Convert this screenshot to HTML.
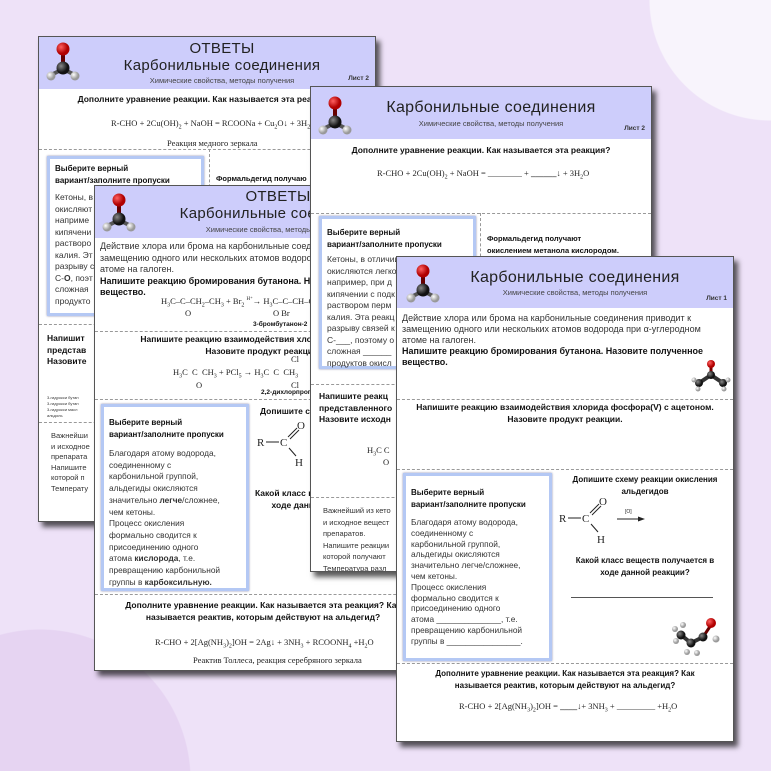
<!DOCTYPE html>
<html><head><meta charset="utf-8"><style>
*{margin:0;padding:0;box-sizing:border-box}
body{width:771px;height:771px;overflow:hidden;position:relative;font-family:"Liberation Sans","DejaVu Sans",sans-serif;color:#333;
background:radial-gradient(circle at 770px 0px,#f8f4fc 0 120px,transparent 121px),radial-gradient(circle at 40px 780px,#e6d4f2 0 150px,transparent 151px),#eee2f8}
.pg{position:absolute;width:338px;height:486px;background:#fff;border:1px solid #555;box-shadow:4px 5px 5px rgba(0,0,0,.65);overflow:hidden}
.pg>*{position:absolute}
.hd{left:0;top:0;width:100%;height:51px;background:#cdcdfb}
.t1{width:100%;text-align:center;font-size:15px;color:#222;letter-spacing:.3px}
.t2{width:100%;text-align:center;font-size:7.5px;color:#444}
.ls{font-size:6.5px;font-weight:bold;color:#333}
.dot{left:0;width:100%;border-top:1px dashed #999;height:0}
.b{font-weight:bold;color:#111}
.c{text-align:center}
.s{font-size:8.5px;line-height:11.5px}
.box{border:3px solid #b4c8f4;background:#fff;box-shadow:0 0 2px #88a}
.eq{font-family:"Liberation Serif",serif;font-size:8.5px;color:#222;white-space:nowrap}
sub{font-size:6px}
</style></head><body>

<svg width="0" height="0" style="position:absolute"><defs>
<radialGradient id="gr" cx=".35" cy=".35"><stop offset="0" stop-color="#ff6060"/><stop offset="1" stop-color="#b00000"/></radialGradient>
<radialGradient id="gk" cx=".35" cy=".35"><stop offset="0" stop-color="#888"/><stop offset="1" stop-color="#111"/></radialGradient>
<radialGradient id="gw" cx=".35" cy=".35"><stop offset="0" stop-color="#fff"/><stop offset="1" stop-color="#999"/></radialGradient>
<g id="mol"><rect x="18" y="10" width="4" height="14" fill="#600"/><line x1="20" y1="28" x2="8" y2="34" stroke="#555" stroke-width="4"/><line x1="20" y1="28" x2="32" y2="34" stroke="#555" stroke-width="4"/><circle cx="20" cy="8" r="6.5" fill="url(#gr)"/><circle cx="8" cy="35" r="4.5" fill="url(#gw)"/><circle cx="32" cy="35" r="4.5" fill="url(#gw)"/><circle cx="20" cy="27" r="6.5" fill="url(#gk)"/></g>
</defs></svg>

<!-- Page A -->
<div class="pg" style="left:38px;top:36px">
 <div class="hd" style="height:52px"></div>
 <svg style="left:4px;top:4px" width="40" height="44"><use href="#mol"/></svg>
 <div class="t1" style="top:3px;left:0;font-size:15px;padding-left:30px">ОТВЕТЫ</div>
 <div class="t1" style="top:20px;left:0;padding-left:30px">Карбонильные соединения</div>
 <div class="t2" style="top:39px;left:0;padding-left:30px">Химические свойства, методы получения</div>
 <div class="ls" style="right:6px;top:38px">Лист 2</div>
 <div class="s b c" style="top:57px;left:0;width:100%">Дополните уравнение реакции. Как называется эта реакция?</div>
 <div class="eq" style="top:81px;left:72px">R-CHO + 2Cu(OH)<sub>2</sub> + NaOH = RCOONa + Cu<sub>2</sub>O↓ + 3H<sub>2</sub>O</div>
 <div class="eq" style="top:101px;left:128px">Реакция медного зеркала</div>
 <div class="dot" style="top:112px"></div>
 <div style="left:170px;top:112px;height:170px;border-left:1px dashed #999"></div>
 <div class="box" style="left:8px;top:119px;width:157px;height:160px"></div>
 <div class="s b" style="left:16px;top:126px;font-size:8px">Выберите верный<br>вариант/заполните пропуски</div>
 <div class="s" style="left:16px;top:155px;font-size:8.5px">Кетоны, в<br>окисляют<br>наприме<br>кипячени<br>растворо<br>калия. Эт<br>разрыву с<br>С-<b>О</b>, поэт<br>сложная<br>продукто</div>
 <div class="s b" style="left:177px;top:136px;font-size:7.5px">Формальдегид получаю</div>
 <div class="dot" style="top:287px"></div>
 <div class="s b" style="left:8px;top:296px">Напишит<br>представ<br>Назовите</div>
 <div style="left:8px;top:358px;font-size:4px;line-height:6px">3-гидрокси бутан<br>3-гидрокси бутан<br>3-гидрокси масл<br>альдоль</div>
 <div class="dot" style="top:385px"></div>
 <div class="s" style="left:12px;top:394px;font-size:7.5px;line-height:10.5px">Важнейши<br>и исходное<br>препарата<br>Напишите<br>которой п<br>Температу</div>
</div>

<!-- Page C -->
<div class="pg" style="left:94px;top:185px">
 <div class="hd" style="height:52px"></div>
 <svg style="left:4px;top:6px" width="40" height="44"><use href="#mol"/></svg>
 <div class="t1" style="top:2px;left:0;padding-left:30px">ОТВЕТЫ</div>
 <div class="t1" style="top:19px;left:0;padding-left:30px">Карбонильные соединения</div>
 <div class="t2" style="top:39px;left:0;padding-left:30px">Химические свойства, методы получения</div>
 <div class="s" style="left:5px;top:55px;width:400px;font-size:9px;line-height:11.5px;white-space:nowrap">Действие хлора или брома на карбонильные соединения приводит к<br>замещению одного или нескольких атомов водорода при α-углеродном<br>атоме на галоген.<br><b style="color:#111">Напишите реакцию бромирования бутанона. Назовите полученное<br>вещество.</b></div>
 <div class="eq" style="left:66px;top:110px">H<sub>3</sub>C–C–CH<sub>2</sub>–CH<sub>3</sub> + Br<sub>2</sub> <sup style="font-size:5px">H⁺</sup>→ H<sub>3</sub>C–C–CH–CH<sub>3</sub></div>
 <div class="eq" style="left:90px;top:122px">O</div>
 <div class="eq" style="left:178px;top:122px">O Br</div>
 <div class="b" style="left:158px;top:135px;font-size:6.5px">3-бромбутанон-2</div>
 <div class="dot" style="top:145px"></div>
 <div class="s b" style="left:0;top:148px;width:100%;text-align:center">Напишите реакцию взаимодействия хлорида фосфора(V)<br>Назовите продукт реакции.</div>
 <div class="eq" style="left:196px;top:168px">Cl</div>
 <div class="eq" style="left:78px;top:181px">H<sub>3</sub>C &nbsp;C &nbsp;CH<sub>3</sub> + PCl<sub>5</sub> → H<sub>3</sub>C &nbsp;C &nbsp;CH<sub>3</sub></div>
 <div class="eq" style="left:101px;top:194px">O</div>
 <div class="eq" style="left:196px;top:194px">Cl</div>
 <div class="b" style="left:166px;top:203px;font-size:6.5px">2,2-дихлорпропан</div>
 <div class="dot" style="top:213px"></div>
 <div class="box" style="left:6px;top:218px;width:148px;height:187px"></div>
 <div class="s b" style="left:14px;top:231px;font-size:8px">Выберите верный<br>вариант/заполните пропуски</div>
 <div class="s" style="left:14px;top:262px;font-size:8.3px;line-height:11.7px">Благодаря атому водорода,<br>соединенному с<br>карбонильной группой,<br>альдегиды окисляются<br>значительно <b>легче</b>/сложнее,<br>чем кетоны.<br>Процесс окисления<br>формально сводится к<br>присоединению одного<br>атома <b>кислорода</b>, т.е.<br>превращению карбонильной<br>группы в <b>карбоксильную.</b></div>
 <div class="s b" style="left:165px;top:220px">Допишите схему реакции окисления</div>
 <svg style="left:160px;top:232px" width="60" height="52"><text x="2" y="28" font-family="Liberation Serif" font-size="11" fill="#222">R</text><line x1="11" y1="24" x2="24" y2="24" stroke="#222"/><text x="25" y="28" font-family="Liberation Serif" font-size="11" fill="#222">C</text><line x1="33" y1="19" x2="42" y2="10" stroke="#222"/><line x1="35" y1="21" x2="44" y2="12" stroke="#222"/><text x="42" y="11" font-family="Liberation Serif" font-size="11" fill="#222">O</text><line x1="34" y1="30" x2="41" y2="38" stroke="#222"/><text x="40" y="48" font-family="Liberation Serif" font-size="11" fill="#222">H</text></svg>
 <div class="s b" style="left:160px;top:302px">Какой класс веществ получается в<br>&nbsp;&nbsp;&nbsp;&nbsp;&nbsp;&nbsp;&nbsp;ходе данной реакции?</div>
 <div class="s" style="left:220px;top:332px">Карбоновые кислоты</div>
 <div class="dot" style="top:408px"></div>
 <div class="s b c" style="left:0;top:414px;width:100%">Дополните уравнение реакции. Как называется эта реакция? Как<br>называется реактив, которым действуют на альдегид?</div>
 <div class="eq" style="left:60px;top:451px">R-CHO + 2[Ag(NH<sub>3</sub>)<sub>2</sub>]OH = 2Ag↓ + 3NH<sub>3</sub> + RCOONH<sub>4</sub> +H<sub>2</sub>O</div>
 <div class="eq" style="left:98px;top:469px">Реактив Толлеса, реакция серебряного зеркала</div>
</div>

<!-- Page B -->
<div class="pg" style="left:310px;top:86px;width:342px">
 <div class="hd" style="height:52px"></div>
 <svg style="left:4px;top:8px" width="40" height="44"><use href="#mol"/></svg>
 <div class="t1" style="top:12px;left:0;padding-left:20px;font-size:16px">Карбонильные соединения</div>
 <div class="t2" style="top:32px;left:0;padding-left:20px">Химические свойства, методы получения</div>
 <div class="ls" style="right:6px;top:38px">Лист 2</div>
 <div class="s b c" style="top:58px;left:0;width:100%">Дополните уравнение реакции. Как называется эта реакция?</div>
 <div class="eq" style="top:81px;left:66px">R-CHO + 2Cu(OH)<sub>2</sub> + NaOH = ________ + <b>______</b>↓ + 3H<sub>2</sub>O</div>
 <div class="dot" style="top:126px"></div>
 <div style="left:169px;top:126px;height:170px;border-left:1px dashed #999"></div>
 <div class="box" style="left:8px;top:129px;width:157px;height:153px"></div>
 <div class="s b" style="left:16px;top:140px;font-size:8px">Выберите верный<br>вариант/заполните пропуски</div>
 <div class="s" style="left:16px;top:167px;font-size:8.5px">Кетоны, в отличии<br>окисляются легко<br>например, при д<br>кипячении с подк<br>раствором перм<br>калия. Эта реакц<br>разрыву связей к<br>С-___, поэтому о<br>сложная ______<br>продуктов окисл</div>
 <div class="s b" style="left:176px;top:146px;font-size:7.5px">Формальдегид получают<br>окислением метанола кислородом.</div>
 <div class="dot" style="top:297px"></div>
 <div class="s b" style="left:8px;top:304px">Напишите реакц<br>представленного<br>Назовите исходн</div>
 <div class="eq" style="left:56px;top:358px">H<sub>3</sub>C C</div>
 <div class="eq" style="left:72px;top:370px">O</div>
 <div class="dot" style="top:410px"></div>
 <div class="s" style="left:12px;top:418px;font-size:7.5px;line-height:11.5px">Важнейший из кето<br>и исходное вещест<br>препаратов.<br>Напишите реакции<br>которой получают<br>Температура разл</div>
</div>

<!-- Page D -->
<div class="pg" style="left:396px;top:256px;width:338px">
 <div class="hd"></div>
 <svg style="left:6px;top:6px" width="40" height="44"><use href="#mol"/></svg>
 <div class="t1" style="top:12px;left:0;padding-left:20px;font-size:16px">Карбонильные соединения</div>
 <div class="t2" style="top:31px;left:0;padding-left:20px">Химические свойства, методы получения</div>
 <div class="ls" style="right:6px;top:38px">Лист 1</div>
 <div class="s" style="left:5px;top:56px;width:335px;font-size:9px;line-height:11px;white-space:nowrap">Действие хлора или брома на карбонильные соединения приводит к<br>замещению одного или нескольких атомов водорода при α-углеродном<br>атоме на галоген.<br><b style="color:#111">Напишите реакцию бромирования бутанона. Назовите полученное<br>вещество.</b></div>
 <svg style="left:294px;top:100px" width="40" height="36"><line x1="8" y1="26" x2="20" y2="18" stroke="#333" stroke-width="4"/><line x1="20" y1="18" x2="32" y2="26" stroke="#333" stroke-width="4"/><line x1="20" y1="8" x2="20" y2="18" stroke="#700" stroke-width="3"/><circle cx="20" cy="7" r="4" fill="url(#gr)"/><circle cx="20" cy="18" r="4" fill="url(#gk)"/><circle cx="8" cy="26" r="4" fill="url(#gk)"/><circle cx="32" cy="26" r="4" fill="url(#gk)"/><circle cx="3" cy="23" r="2.5" fill="url(#gw)"/><circle cx="7" cy="32" r="2.5" fill="url(#gw)"/><circle cx="37" cy="23" r="2.5" fill="url(#gw)"/><circle cx="33" cy="32" r="2.5" fill="url(#gw)"/></svg>
 <div class="dot" style="top:142px"></div>
 <div class="s b c" style="left:0;top:145px;width:100%">Напишите реакцию взаимодействия хлорида фосфора(V) с ацетоном.<br>Назовите продукт реакции.</div>
 <div class="dot" style="top:212px"></div>
 <div class="box" style="left:6px;top:216px;width:149px;height:188px"></div>
 <div class="s b" style="left:14px;top:230px;font-size:8px">Выберите верный<br>вариант/заполните пропуски</div>
 <div class="s" style="left:14px;top:260px;font-size:8.3px;line-height:10.8px">Благодаря атому водорода,<br>соединенному с<br>карбонильной группой,<br>альдегиды окисляются<br>значительно легче/сложнее,<br>чем кетоны.<br>Процесс окисления<br>формально сводится к<br>присоединению одного<br>атома ______________, т.е.<br>превращению карбонильной<br>группы в ________________.</div>
 <div class="s b c" style="left:160px;top:217px;width:176px;font-size:8px">Допишите схему реакции окисления<br>альдегидов</div>
 <svg style="left:160px;top:236px" width="100" height="54"><text x="2" y="29" font-family="Liberation Serif" font-size="11" fill="#222">R</text><line x1="11" y1="25" x2="24" y2="25" stroke="#222"/><text x="25" y="29" font-family="Liberation Serif" font-size="11" fill="#222">C</text><line x1="33" y1="20" x2="42" y2="11" stroke="#222"/><line x1="35" y1="22" x2="44" y2="13" stroke="#222"/><text x="42" y="12" font-family="Liberation Serif" font-size="11" fill="#222">O</text><line x1="34" y1="31" x2="41" y2="39" stroke="#222"/><text x="40" y="50" font-family="Liberation Serif" font-size="11" fill="#222">H</text><text x="68" y="20" font-size="5" fill="#222" font-family="Liberation Sans">[O]</text><line x1="60" y1="26" x2="84" y2="26" stroke="#222"/><polygon points="88,26 81,23.5 81,28.5" fill="#222"/></svg>
 <div class="s b c" style="left:160px;top:298px;width:176px;font-size:8px">Какой класс веществ получается в<br>ходе данной реакции?</div>
 <div style="left:174px;top:340px;width:142px;border-top:1px solid #555"></div>
 <svg style="left:274px;top:358px" width="56" height="44"><line x1="10" y1="20" x2="20" y2="28" stroke="#333" stroke-width="4"/><line x1="20" y1="28" x2="32" y2="22" stroke="#333" stroke-width="4"/><line x1="32" y1="22" x2="40" y2="10" stroke="#600" stroke-width="3"/><circle cx="10" cy="20" r="4.5" fill="url(#gk)"/><circle cx="20" cy="28" r="4.5" fill="url(#gk)"/><circle cx="32" cy="22" r="4.5" fill="url(#gk)"/><circle cx="40" cy="8" r="5" fill="url(#gr)"/><circle cx="4" cy="14" r="3" fill="url(#gw)"/><circle cx="5" cy="26" r="3" fill="url(#gw)"/><circle cx="12" cy="10" r="3" fill="url(#gw)"/><circle cx="16" cy="37" r="3" fill="url(#gw)"/><circle cx="26" cy="38" r="3" fill="url(#gw)"/><circle cx="45" cy="24" r="3.5" fill="url(#gw)"/></svg>
 <div class="dot" style="top:406px"></div>
 <div class="s b c" style="left:0;top:411px;width:100%;font-size:8px">Дополните уравнение реакции. Как называется эта реакция? Как<br>называется реактив, которым действуют на альдегид?</div>
 <div class="eq" style="left:62px;top:444px">R-CHO + 2[Ag(NH<sub>3</sub>)<sub>2</sub>]OH = <b>____</b>↓+ 3NH<sub>3</sub> + _________ +H<sub>2</sub>O</div>
</div>

</body></html>
